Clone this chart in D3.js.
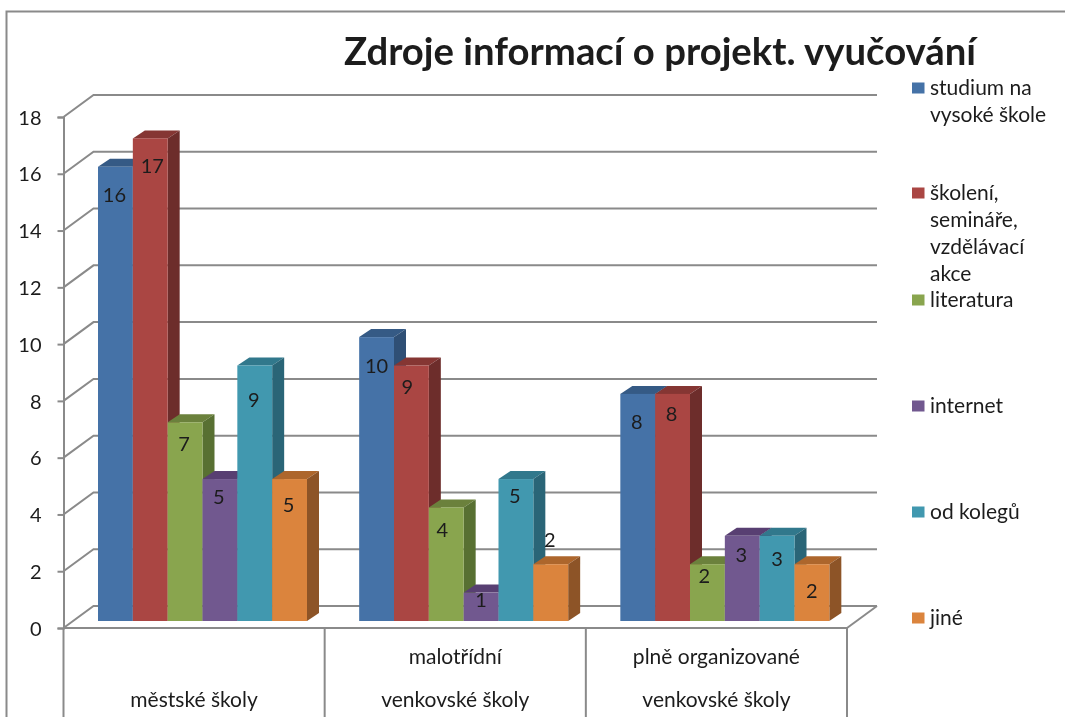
<!DOCTYPE html>
<html><head><meta charset="utf-8">
<script src="https://cdn.jsdelivr.net/npm/d3@7"></script>
<style>html,body{margin:0;padding:0;background:#fff;overflow:hidden}svg{display:block;filter:blur(0.45px)}text{font-family:Lato,"Noto Sans",sans-serif;fill:#1c1c1c}</style>
</head><body><svg id="c" width="1065" height="717"></svg>
<script>
const titleText = "Zdroje informací o projekt. vyučování";
const categories = ["městské školy", "malotřídní venkovské školy", "plně organizované venkovské školy"];
const categoryLines = [["městské školy"], ["malotřídní", "venkovské školy"], ["plně organizované", "venkovské školy"]];
const seriesNames = ["studium na vysoké škole", "školení, semináře, vzdělávací akce", "literatura", "internet", "od kolegů", "jiné"];
const seriesLines = [["studium na", "vysoké škole"], ["školení,", "semináře,", "vzdělávací", "akce"], ["literatura"], ["internet"], ["od kolegů"], ["jiné"]];
const values = [
  [16, 17, 7, 5, 9, 5],
  [10, 9, 4, 1, 5, 2],
  [8, 8, 2, 3, 3, 2]
];
const tickValues = [0, 2, 4, 6, 8, 10, 12, 14, 16, 18];
const frontColors = ["#4572a7", "#aa4643", "#89a54e", "#71588f", "#4198af", "#db843d"];
const topColors = ["#355a85", "#853633", "#6b813c", "#583f72", "#31788c", "#ad662c"];
const sideColors = ["#2f4f75", "#6d2d2b", "#587032", "#4a3560", "#2a6577", "#8d5427"];
// hand placement of data labels relative to the bar's top centre (as in the source)
const labelDy = [[28, 28, 22, 18, 34, 26], [29, 21, 23, 7, 17, -24], [28, 20, 12, 19, 23, 27]];
const labelDx = [[-1, 2, -1, -1, -1, -1], [0, -4, -4, 0, -1, -1], [-1, -1, -3, -1, 0, 0]];
const gridColor = "#8a8a8a";

const svg = d3.select("#c");
const y = d3.scaleLinear().domain([0, 18]).range([628, 117]);
const xCat = d3.scaleBand().domain(categories).range([63.5, 847]);
const xSer = d3.scaleBand().domain(seriesNames).range([34.5, 243.5]);
const wall = {dx: 30, dy: -22}, barOff = -7, depth = {dx: 12, dy: -8};

// frame
svg.append("path").attr("d", "M6.5,717V11.5H1065").attr("fill", "none").attr("stroke", gridColor).attr("stroke-width", 2);

// walls
const grid = svg.append("g").attr("fill", "none").attr("stroke", gridColor).attr("stroke-width", 2);
tickValues.forEach(t => {
  grid.append("path").attr("d", `M${63.5},${y(t)}L${63.5 + wall.dx},${y(t) + wall.dy}H${847 + wall.dx}`);
});
grid.append("path").attr("d", `M${847},${y(0)}L${847 + wall.dx},${y(0) + wall.dy}`);

// category axis with separators
grid.append("path").attr("d", `M63.5,${y(0)}H847`);
[...categories.map(c => xCat(c)), 847].forEach(x => {
  grid.append("line").attr("x1", x).attr("x2", x).attr("y1", y(0)).attr("y2", 717);
});
const catG = svg.append("g").attr("text-anchor", "middle").attr("font-size", 21);
categories.forEach((c, i) => {
  const lines = categoryLines[i];
  lines.forEach((l, j) => {
    catG.append("text").attr("x", xCat(c) + xCat.bandwidth() / 2)
      .attr("y", 707 - (lines.length - 1 - j) * 43).text(l);
  });
});

// value axis
const axis = d3.axisLeft(y).tickValues(tickValues).tickSize(6).tickPadding(16).tickFormat(d3.format("d"));
const ag = svg.append("g").attr("transform", "translate(63.5,0)").call(axis);
ag.selectAll("path,line").attr("stroke", gridColor).attr("stroke-width", 2);
ag.selectAll("text").attr("font-size", 20).attr("font-family", "Lato").attr("fill", "#1c1c1c").attr("dy", "0.36em");

// bars
const bars = svg.append("g");
const labels = svg.append("g").attr("text-anchor", "middle").attr("font-size", 20);
categories.forEach((c, i) => {
  seriesNames.forEach((s, k) => {
    const v = values[i][k];
    const x0 = xCat(c) + xSer(s), w = xSer.bandwidth();
    const yT = y(v) + barOff, yB = y(0) + barOff;
    const g = bars.append("g");
    g.append("path").attr("fill", topColors[k])
      .attr("d", `M${x0},${yT}L${x0 + depth.dx},${yT + depth.dy}H${x0 + w + depth.dx}L${x0 + w},${yT}Z`);
    g.append("path").attr("fill", sideColors[k])
      .attr("d", `M${x0 + w},${yT}L${x0 + w + depth.dx},${yT + depth.dy}V${yB + depth.dy}L${x0 + w},${yB}Z`);
    g.append("rect").attr("fill", frontColors[k]).attr("x", x0).attr("y", yT).attr("width", w).attr("height", yB - yT);
    labels.append("text").attr("x", x0 + w / 2 + labelDx[i][k]).attr("y", yT + labelDy[i][k]).attr("dy", "0.35em").text(v);
  });
});

// legend
const legendY = [88, 193, 300, 406, 512, 618];
const leg = svg.append("g");
seriesNames.forEach((s, k) => {
  leg.append("rect").attr("x", 912).attr("y", legendY[k] - 5.5).attr("width", 12.5).attr("height", 11).attr("fill", frontColors[k]);
  seriesLines[k].forEach((l, j) => {
    leg.append("text").attr("x", 930).attr("y", legendY[k] + j * 27).attr("dy", "0.33em").attr("font-size", 21).attr("fill", "#333").text(l);
  });
});

// title
svg.append("text").attr("x", 660).attr("y", 65).attr("text-anchor", "middle")
  .attr("font-size", 38.3).attr("font-weight", 700).attr("fill", "#000").text(titleText);
</script></body></html>
